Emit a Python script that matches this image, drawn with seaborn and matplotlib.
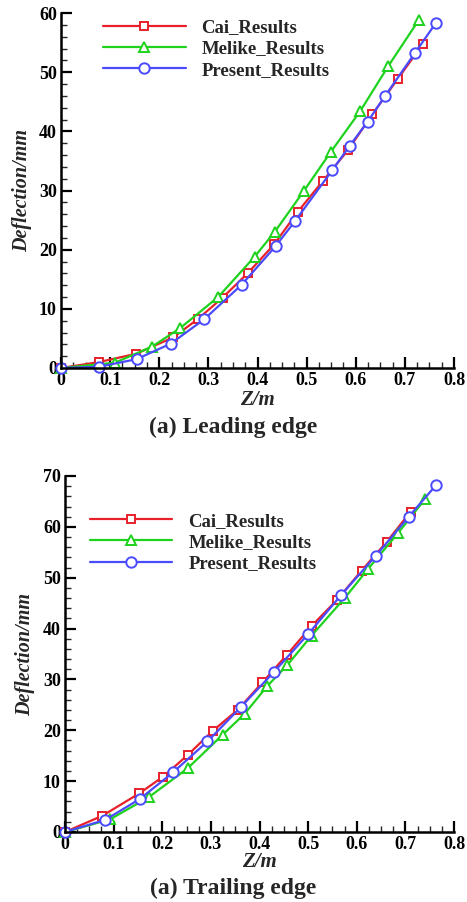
import matplotlib
matplotlib.use("Agg")
import matplotlib.pyplot as plt
import seaborn as sns
import pandas as pd
from matplotlib.ticker import MultipleLocator, FuncFormatter

sns.set_theme(style="white")
plt.rcParams['font.family'] = ['Liberation Serif', 'DejaVu Serif']
plt.rcParams['font.weight'] = 'bold'

# ---- Leading edge data ----
le_cai_z = [0.0, 0.077, 0.153, 0.229, 0.279, 0.329, 0.381, 0.434, 0.482, 0.533, 0.584, 0.634, 0.685, 0.736]
le_cai_d = [0.0, 1.0, 2.4, 5.2, 8.3, 11.9, 16.1, 20.9, 26.4, 31.6, 36.8, 42.9, 48.8, 54.7]
le_mel_z = [0.0, 0.110, 0.185, 0.242, 0.320, 0.394, 0.435, 0.495, 0.549, 0.609, 0.666, 0.729]
le_mel_d = [0.0, 0.9, 3.6, 6.7, 12.0, 18.8, 23.0, 30.0, 36.5, 43.4, 51.0, 58.9]
le_pre_z = [0.0, 0.077, 0.154, 0.223, 0.291, 0.368, 0.437, 0.477, 0.552, 0.588, 0.624, 0.659, 0.721, 0.763]
le_pre_d = [0.0, 0.2, 1.5, 4.1, 8.2, 14.1, 20.6, 24.9, 33.4, 37.6, 41.6, 45.9, 53.3, 58.3]

# ---- Trailing edge data ----
te_cai_z = [0.0, 0.077, 0.153, 0.202, 0.252, 0.304, 0.355, 0.406, 0.456, 0.508, 0.559, 0.610, 0.662, 0.711]
te_cai_d = [0.0, 3.2, 7.6, 10.9, 15.1, 19.9, 24.0, 29.4, 34.8, 40.6, 45.6, 51.4, 57.1, 63.0]
te_mel_z = [0.0, 0.093, 0.173, 0.252, 0.324, 0.370, 0.416, 0.457, 0.507, 0.576, 0.624, 0.685, 0.740]
te_mel_d = [0.0, 2.5, 6.9, 12.5, 19.1, 23.3, 28.7, 32.8, 38.6, 46.1, 51.8, 58.8, 65.4]
te_pre_z = [0.0, 0.083, 0.154, 0.222, 0.293, 0.361, 0.430, 0.500, 0.568, 0.639, 0.707, 0.763]
te_pre_d = [0.0, 2.4, 6.5, 11.7, 17.8, 24.5, 31.5, 38.9, 46.6, 54.3, 62.0, 68.2]

series_names = ["Cai_Results", "Melike_Results", "Present_Results"]
colors = ["#e8202a", "#1ed21e", "#4a4aff"]
markers = ["s", "^", "o"]
msizes = [5.5, 7.5, 7.5]

fig = plt.figure(figsize=(4.67, 9.02), dpi=100)

def make_panel(rect, data, ymax, ymajor, leg_anchor, title, title_y, zlab_y, ylab_x):
    ax = fig.add_axes(rect)
    for (z, d), name, c, m, ms in zip(data, series_names, colors, markers, msizes):
        df = pd.DataFrame({"Z": z, "D": d})
        sns.lineplot(data=df, x="Z", y="D", ax=ax, color=c, marker=m, markersize=ms,
                     markerfacecolor="white", markeredgecolor=c, markeredgewidth=1.4,
                     linewidth=1.6, label=name, sort=False, estimator=None, clip_on=False)
    ax.set_xlim(0, 0.8)
    ax.set_ylim(0, ymax)
    ax.set_xlabel("")
    ax.set_ylabel("")
    for s in ["top", "right"]:
        ax.spines[s].set_visible(False)
    for s in ["left", "bottom"]:
        ax.spines[s].set_color("black")
        ax.spines[s].set_linewidth(1.8)
    ax.xaxis.set_major_locator(MultipleLocator(0.1))
    ax.xaxis.set_minor_locator(MultipleLocator(0.025))
    ax.yaxis.set_major_locator(MultipleLocator(ymajor))
    ax.yaxis.set_minor_locator(MultipleLocator(2))
    ax.xaxis.set_major_formatter(FuncFormatter(lambda v, p: "0" if abs(v) < 1e-9 else f"{v:.1f}"))
    ax.yaxis.set_major_formatter(FuncFormatter(lambda v, p: f"{v:.0f}"))
    ax.tick_params(axis="both", which="major", direction="in", length=8, width=1.6,
                   labelsize=13, colors="black", pad=3, bottom=True, left=True)
    ax.tick_params(axis="both", which="minor", direction="in", length=4, width=1.0,
                   bottom=True, left=True)
    for lab in ax.get_xticklabels() + ax.get_yticklabels():
        lab.set_fontweight("bold")
    ax.legend(loc="upper left", bbox_to_anchor=leg_anchor, frameon=False,
              handlelength=4.4, handletextpad=0.85, labelspacing=0.22,
              borderpad=0, borderaxespad=0, prop={"size": 13.5, "weight": "bold"})
    cx = rect[0] + rect[2] / 2
    fig.text(cx, zlab_y, "Z/m", ha="center", va="center", fontsize=15,
             fontweight="bold", style="italic")
    fig.text(ylab_x, rect[1] + rect[3] / 2, "Deflection/mm", ha="center", va="center",
             rotation=90, fontsize=14.5, fontweight="bold", style="italic")
    fig.text(0.5, title_y, title, ha="center", va="center", fontsize=17, fontweight="bold")
    return ax

W, H = 467.0, 902.0
top_rect = [61 / W, (H - 368) / H, (454 - 61) / W, (368 - 13) / H]
bot_rect = [65 / W, (H - 832) / H, (454 - 65) / W, (832 - 476) / H]

make_panel(top_rect, [(le_cai_z, le_cai_d), (le_mel_z, le_mel_d), (le_pre_z, le_pre_d)],
           60, 10, (0.107, 0.983), "(a) Leading edge", 1 - 427 / H, 1 - 400 / H, 22 / W)
make_panel(bot_rect, [(te_cai_z, te_cai_d), (te_mel_z, te_mel_d), (te_pre_z, te_pre_d)],
           70, 10, (0.064, 0.897), "(a) Trailing edge", 1 - 888 / H, 1 - 862 / H, 25 / W)

fig.savefig("out.png", dpi=100)
